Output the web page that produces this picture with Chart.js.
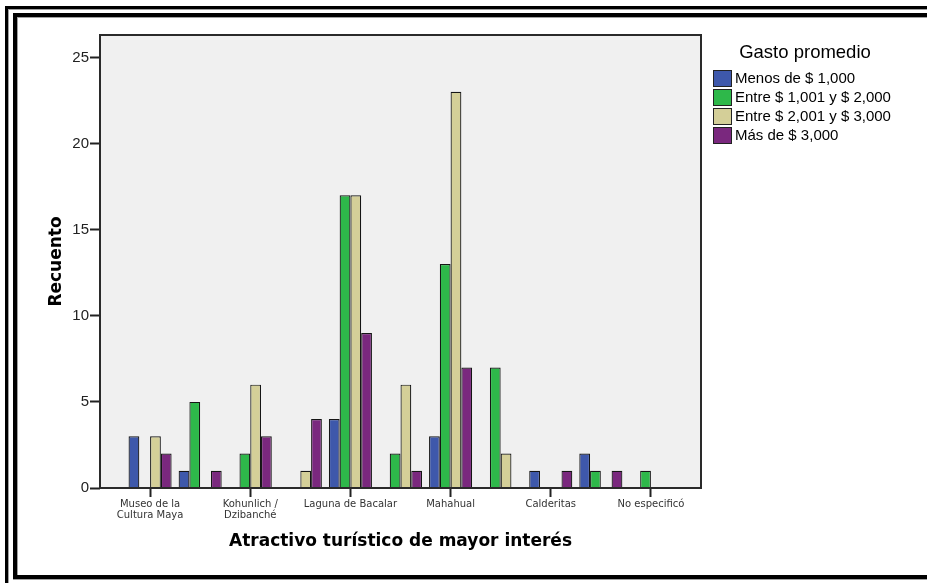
<!DOCTYPE html>
<html>
<head>
<meta charset="utf-8">
<script src="https://cdn.jsdelivr.net/npm/chart.js@4/dist/chart.umd.min.js"></script>
<style>
  html, body { margin: 0; padding: 0; background: #fff; }
  #wrap { position: relative; width: 927px; height: 583px; overflow: hidden; }
  #c { position: absolute; left: 0; top: 0; }
  .ln { position: absolute; background: #000; }
  .gr { position: absolute; background: #a0a0a0; }
</style>
</head>
<body>
<div id="wrap">
  <canvas id="c" width="927" height="583"></canvas>
  <!-- double frame around the figure -->
  <div class="ln" style="left:5px;top:6px;width:922px;height:3px"></div>
  <div class="gr" style="left:8px;top:9px;width:919px;height:1px"></div>
  <div class="ln" style="left:5px;top:6px;width:3px;height:577px"></div>
  <div class="gr" style="left:8px;top:9px;width:1px;height:574px"></div>
  <div class="ln" style="left:13px;top:13px;width:914px;height:4px"></div>
  <div class="gr" style="left:17px;top:17px;width:910px;height:1px"></div>
  <div class="ln" style="left:13px;top:13px;width:4px;height:566px"></div>
  <div class="gr" style="left:17px;top:17px;width:1px;height:558px"></div>
  <div class="ln" style="left:13px;top:575px;width:914px;height:4px"></div>
  <div class="gr" style="left:13px;top:579px;width:914px;height:1px"></div>
</div>
<script>
// Category slots along the x axis (labels shown on every other slot)
const categories = ['', ['Museo de la', 'Cultura Maya'], '', ['Kohunlich /', 'Dzibanché'], '',
  'Laguna de Bacalar', '', 'Mahahual', '', 'Calderitas', '', 'No especificó', ''];

// Counts per spending bracket
const menos1000 = [null, 3, 1, null, null, 4, null, 3, null, 1, 2, null, null];
const entre1001 = [null, null, 5, 2, null, 17, 2, 13, 7, null, 1, 1, null];
const entre2001 = [null, 3, null, 6, 1, 17, 6, 23, 2, null, null, null, null];
const mas3000   = [null, 2, 1, 3, 4, 9, 1, 7, null, 1, 1, null, null];

const seriesNames = ['Menos de $ 1,000', 'Entre $ 1,001 y $ 2,000', 'Entre $ 2,001 y $ 3,000', 'Más de $ 3,000'];
const seriesColors = ['#3e58ab', '#2eb84a', '#d4cf98', '#7a287e'];
const yTicks = [0, 5, 10, 15, 20, 25];

const legendTitle = 'Gasto promedio';
const xTitle = 'Atractivo turístico de mayor interés';
const yTitle = 'Recuento';

Chart.defaults.font.family = '"Liberation Sans", Arial, sans-serif';
Chart.defaults.color = '#000';

// Grey plot background and dark frame around the plot area
const plotFrame = {
  id: 'plotFrame',
  beforeDraw(chart) {
    const { ctx, chartArea: a } = chart;
    ctx.save();
    ctx.fillStyle = '#fff';
    ctx.fillRect(0, 0, chart.width, chart.height);
    ctx.fillStyle = '#f0f0f0';
    ctx.fillRect(a.left, a.top, a.right - a.left, a.bottom - a.top);
    ctx.restore();
  },
  afterDatasetsDraw(chart) {
    const { ctx, chartArea: a } = chart;
    ctx.save();
    ctx.strokeStyle = '#2a2a2a';
    ctx.lineWidth = 2;
    ctx.strokeRect(a.left, a.top, a.right - a.left, a.bottom - a.top);
    ctx.restore();
  }
};

// Legend drawn to the right of the plot, with a title
const sideLegend = {
  id: 'sideLegend',
  afterDraw(chart) {
    const ctx = chart.ctx;
    ctx.save();
    ctx.fillStyle = '#000';
    ctx.font = '18.5px "Liberation Sans", Arial, sans-serif';
    ctx.textAlign = 'center';
    ctx.textBaseline = 'middle';
    ctx.fillText(legendTitle, 805, 53);
    ctx.font = '15px "Liberation Sans", Arial, sans-serif';
    ctx.textAlign = 'left';
    chart.data.datasets.forEach((ds, i) => {
      const y = 70 + i * 19;
      ctx.fillStyle = ds.backgroundColor;
      ctx.fillRect(713.5, y + 0.5, 18, 16);
      ctx.strokeStyle = '#222';
      ctx.lineWidth = 1;
      ctx.strokeRect(713.5, y + 0.5, 18, 16);
      ctx.fillStyle = '#000';
      ctx.fillText(ds.label, 735, y + 9);
    });
    ctx.restore();
  }
};

const seriesData = [menos1000, entre1001, entre2001, mas3000];

new Chart(document.getElementById('c'), {
  type: 'bar',
  data: {
    labels: categories,
    datasets: seriesData.map((d, i) => ({
      label: seriesNames[i],
      data: d,
      backgroundColor: seriesColors[i],
      borderColor: '#151515',
      borderWidth: 1.2,
      categoryPercentage: 0.86,
      barPercentage: 1.0
    }))
  },
  options: {
    responsive: false,
    animation: false,
    layout: { padding: { top: 35, right: 226, left: 0, bottom: 0 } },
    plugins: {
      legend: { display: false },
      tooltip: { enabled: false }
    },
    scales: {
      x: {
        type: 'category',
        offset: false,
        grid: {
          offset: false,
          drawOnChartArea: false,
          drawTicks: true,
          tickLength: 9,
          tickWidth: 2,
          tickColor: (ctx) => (categories[ctx.index] ? '#222' : 'rgba(0,0,0,0)')
        },
        border: { display: false },
        ticks: {
          autoSkip: false,
          maxRotation: 0,
          minRotation: 0,
          padding: 2,
          font: { size: 10, family: '"DejaVu Sans", sans-serif', lineHeight: 1.1 },
          color: '#333'
        },
        title: {
          display: true,
          text: xTitle,
          font: { size: 17, weight: 'bold', family: '"DejaVu Sans", sans-serif' },
          padding: { top: 0, bottom: 31 }
        },
        afterFit(scale) { scale.height = 95; }
      },
      y: {
        min: 0,
        max: 26.3,
        grid: {
          drawOnChartArea: false,
          drawTicks: true,
          tickLength: 10,
          tickWidth: 2,
          tickColor: '#222'
        },
        border: { display: false },
        ticks: {
          padding: 1,
          font: { size: 15 },
          color: '#222'
        },
        afterBuildTicks(scale) { scale.ticks = yTicks.map(v => ({ value: v })); },
        title: {
          display: true,
          text: yTitle,
          font: { size: 17, weight: 'bold', family: '"DejaVu Sans", sans-serif' },
          padding: { top: 46, bottom: 0 }
        },
        afterFit(scale) { scale.width = 100; }
      }
    }
  },
  plugins: [plotFrame, sideLegend]
});
</script>
</body>
</html>
